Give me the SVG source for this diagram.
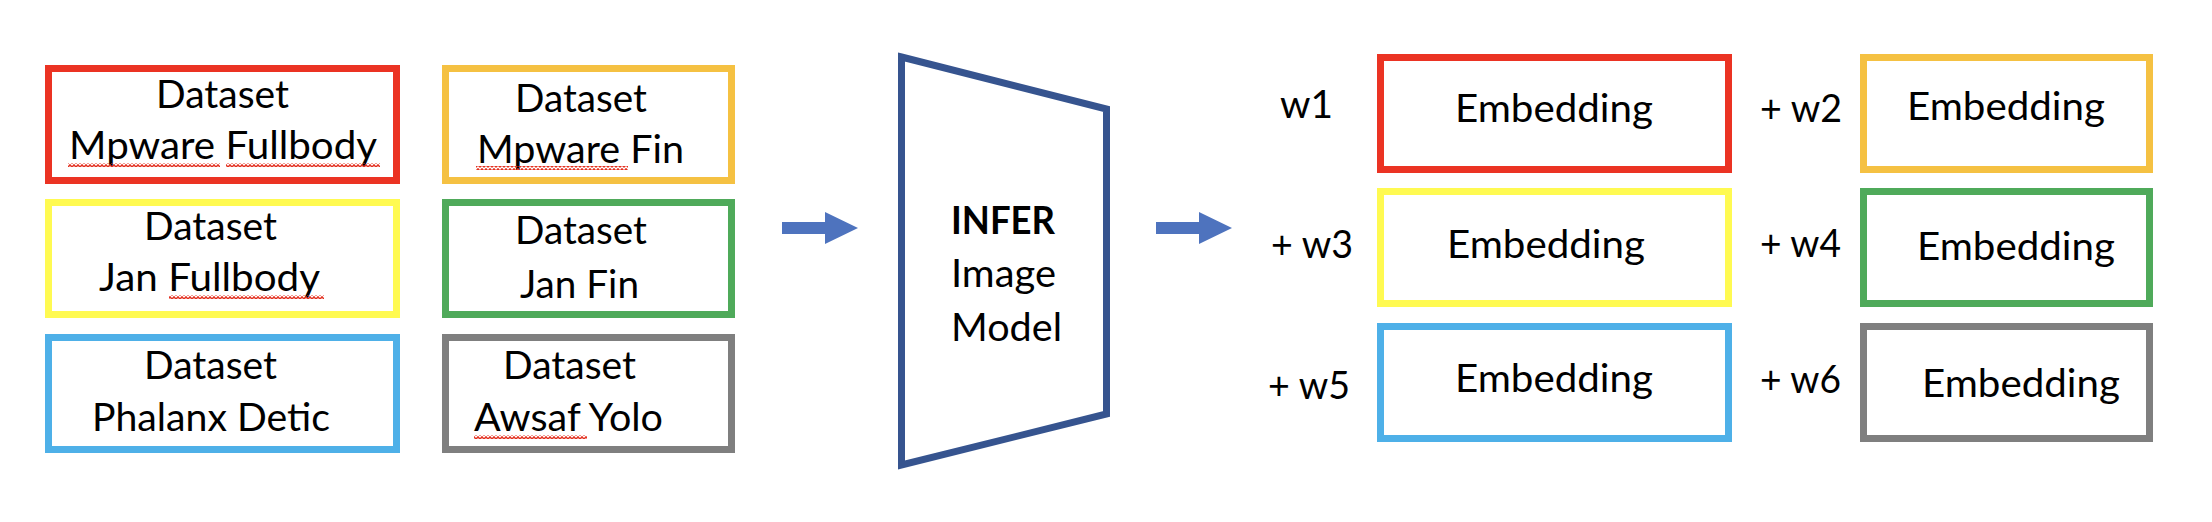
<svg xmlns="http://www.w3.org/2000/svg" width="2212" height="522" viewBox="0 0 2212 522">
<style>
  .box{fill:#ffffff;stroke-width:7}
  .t{font-family:Lato,"Open Sans","Liberation Sans",sans-serif;font-size:39px;fill:#000000}
  .b{font-weight:bold}
  .red{stroke:#EB3323}
  .orange{stroke:#F5C142}
  .yellow{stroke:#FFFA51}
  .green{stroke:#4FAA5A}
  .blue{stroke:#4EB0E8}
  .gray{stroke:#7F7F7F}
  .arrow{fill:#4E73BE}
</style>
<defs>
  <pattern id="squig" patternUnits="userSpaceOnUse" x="0" y="0" width="4" height="4">
    <path d="M0,3.2 L2,0.8 L4,3.2" fill="none" stroke="#E3301F" stroke-width="1.4"/>
  </pattern>
</defs>
<rect x="0" y="0" width="2212" height="522" fill="#ffffff"/>

<g id="dataset-mpware-fullbody">
  <rect class="box red" x="48.5" y="68.5" width="348" height="112"/>
  <text class="t" x="156" y="108" textLength="133" lengthAdjust="spacingAndGlyphs">Dataset</text>
  <text class="t" x="69" y="159" textLength="308" lengthAdjust="spacingAndGlyphs">Mpware Fullbody</text>
  <rect x="68" y="163" width="152" height="4" fill="url(#squig)"/>
  <rect x="226" y="163" width="154" height="4" fill="url(#squig)"/>
</g>
<g id="dataset-mpware-fin">
  <rect class="box orange" x="445.5" y="68.5" width="286" height="112"/>
  <text class="t" x="515" y="112" textLength="132" lengthAdjust="spacingAndGlyphs">Dataset</text>
  <text class="t" x="477" y="163" textLength="207" lengthAdjust="spacingAndGlyphs">Mpware Fin</text>
  <rect x="476" y="166" width="152" height="4" fill="url(#squig)"/>
</g>
<g id="dataset-jan-fullbody">
  <rect class="box yellow" x="48.5" y="202.5" width="348" height="112"/>
  <text class="t" x="144" y="240" textLength="133" lengthAdjust="spacingAndGlyphs">Dataset</text>
  <text class="t" x="99" y="291" textLength="221" lengthAdjust="spacingAndGlyphs">Jan Fullbody</text>
  <rect x="169" y="295" width="155" height="4" fill="url(#squig)"/>
</g>
<g id="dataset-jan-fin">
  <rect class="box green" x="445.5" y="202.5" width="286" height="112"/>
  <text class="t" x="515" y="244" textLength="132" lengthAdjust="spacingAndGlyphs">Dataset</text>
  <text class="t" x="520" y="298" textLength="119" lengthAdjust="spacingAndGlyphs">Jan Fin</text>
</g>
<g id="dataset-phalanx-detic">
  <rect class="box blue" x="48.5" y="337.5" width="348" height="112"/>
  <text class="t" x="144" y="379" textLength="133" lengthAdjust="spacingAndGlyphs">Dataset</text>
  <text class="t" x="92" y="431" textLength="238" lengthAdjust="spacingAndGlyphs">Phalanx Detic</text>
</g>
<g id="dataset-awsaf-yolo">
  <rect class="box gray" x="445.5" y="337.5" width="286" height="112"/>
  <text class="t" x="503" y="379" textLength="133" lengthAdjust="spacingAndGlyphs">Dataset</text>
  <text class="t" x="474" y="431" textLength="189" lengthAdjust="spacingAndGlyphs">Awsaf Yolo</text>
  <rect x="474" y="435" width="113" height="4" fill="url(#squig)"/>
</g>

<g id="infer-image-model">
  <polygon points="901.5,57 1106.5,109 1106.5,414 901.5,465" fill="#ffffff" stroke="#36548F" stroke-width="7" stroke-linejoin="miter"/>
  <text class="t b" x="951" y="234" textLength="104" lengthAdjust="spacingAndGlyphs">INFER</text>
  <text class="t" x="951" y="287" textLength="105" lengthAdjust="spacingAndGlyphs">Image</text>
  <text class="t" x="951" y="341" textLength="111" lengthAdjust="spacingAndGlyphs">Model</text>
</g>

<g id="connectors">
  <polygon class="arrow" points="782,222 825,222 825,212 858,228 825,244 825,234 782,234"/>
  <polygon class="arrow" points="1156,222 1199,222 1199,212 1232,228 1199,244 1199,234 1156,234"/>
</g>

<g id="embedding-1">
  <text class="t" x="1280" y="118" textLength="53" lengthAdjust="spacingAndGlyphs">w1</text>
  <rect class="box red" x="1380.5" y="57.5" width="348" height="112"/>
  <text class="t" x="1455" y="122" textLength="198" lengthAdjust="spacingAndGlyphs">Embedding</text>
</g>
<g id="embedding-2">
  <text class="t" x="1760" y="122" textLength="82" lengthAdjust="spacingAndGlyphs">+ w2</text>
  <rect class="box orange" x="1863.5" y="57.5" width="286" height="112"/>
  <text class="t" x="1907" y="120" textLength="198" lengthAdjust="spacingAndGlyphs">Embedding</text>
</g>
<g id="embedding-3">
  <text class="t" x="1271" y="258" textLength="82" lengthAdjust="spacingAndGlyphs">+ w3</text>
  <rect class="box yellow" x="1380.5" y="191.5" width="348" height="112"/>
  <text class="t" x="1447" y="258" textLength="198" lengthAdjust="spacingAndGlyphs">Embedding</text>
</g>
<g id="embedding-4">
  <text class="t" x="1760" y="257" textLength="81" lengthAdjust="spacingAndGlyphs">+ w4</text>
  <rect class="box green" x="1863.5" y="191.5" width="286" height="112"/>
  <text class="t" x="1917" y="260" textLength="198" lengthAdjust="spacingAndGlyphs">Embedding</text>
</g>
<g id="embedding-5">
  <text class="t" x="1268" y="399" textLength="82" lengthAdjust="spacingAndGlyphs">+ w5</text>
  <rect class="box blue" x="1380.5" y="326.5" width="348" height="112"/>
  <text class="t" x="1455" y="392" textLength="198" lengthAdjust="spacingAndGlyphs">Embedding</text>
</g>
<g id="embedding-6">
  <text class="t" x="1760" y="393" textLength="81" lengthAdjust="spacingAndGlyphs">+ w6</text>
  <rect class="box gray" x="1863.5" y="326.5" width="286" height="112"/>
  <text class="t" x="1922" y="397" textLength="198" lengthAdjust="spacingAndGlyphs">Embedding</text>
</g>
</svg>
